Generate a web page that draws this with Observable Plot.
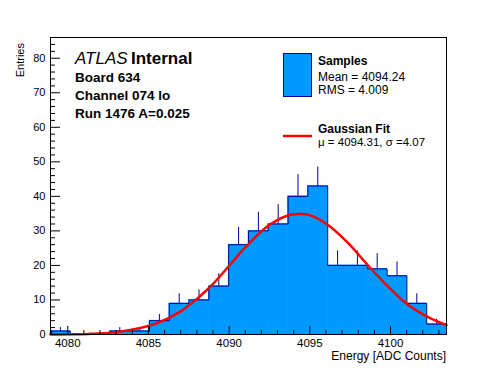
<!DOCTYPE html>
<html><head><meta charset="utf-8">
<script src="https://cdn.jsdelivr.net/npm/d3@7"></script>
<script src="https://cdn.jsdelivr.net/npm/@observablehq/plot@0.6"></script>
<style>body{margin:0;background:#fff;} #chart{width:496px;height:372px;}</style>
</head><body><div id="chart"></div>
<script>
// ---- data ----
const xRange = [4078.93, 4103.47];
const yRange = [0, 86];
const counts = [1, 0, 0, 1, 1, 4, 9, 10, 14, 26, 30, 32, 40, 43, 20, 20, 19, 17, 9, 3];
const errTop = [2, 0, 0, 2, 2, 5.8, 11.8, 12.9, 17.6, 31, 35.4, 37.6, 46.3, 48.5, 24.2, 24.2, 23.4, 21, 11.8, 4.4];
const fitX = [4078.93, 4080.5, 4081.4, 4082.5, 4083.1, 4084.5, 4085.5, 4087.0, 4088.0, 4089.05, 4090.0, 4091.1, 4092.4, 4093.6, 4094.3, 4094.9, 4096.1, 4097.35, 4098.55, 4099.8, 4101.0, 4102.3, 4103.47];
const fitY = [0.0, 0.05, 0.2, 0.45, 0.75, 1.9, 3.2, 6.7, 10.3, 14.9, 19.9, 25.7, 31.4, 34.4, 34.9, 34.7, 31.8, 26.6, 20.3, 14.1, 8.9, 5.1, 2.7];
const xMajor = [4080, 4085, 4090, 4095, 4100];
const xMinor = [4079, 4081, 4082, 4083, 4084, 4086, 4087, 4088, 4089, 4091, 4092, 4093, 4094, 4096, 4097, 4098, 4099, 4101, 4102, 4103];
const yMajor = [0, 10, 20, 30, 40, 50, 60, 70, 80];
const yMinor = [2, 4, 6, 8, 12, 14, 16, 18, 22, 24, 26, 28, 32, 34, 36, 38, 42, 44, 46, 48, 52, 54, 56, 58, 62, 64, 66, 68, 72, 74, 76, 78, 82, 84];
const headline = ["ATLAS", "Internal"];
const infoLines = ["Board 634", "Channel 074 lo", "Run 1476 A=0.025"];
const legendSamples = ["Samples", "Mean = 4094.24", "RMS = 4.009"];
const legendFit = ["Gaussian Fit", "\u03bc = 4094.31, \u03c3 =4.07"];
const xTitle = "Energy [ADC Counts]";
const yTitle = "Entries";

// ---- derived tables ----
const binW = (xRange[1] - xRange[0]) / counts.length;
const bins = counts.map((c, i) => ({x1: xRange[0] + i * binW, x2: xRange[0] + (i + 1) * binW, c, e: errTop[i]}));
const outline = [{x: xRange[0], y: 0}];
bins.forEach(b => { outline.push({x: b.x1, y: b.c}); outline.push({x: b.x2, y: b.c}); });
outline.push({x: xRange[1], y: 0});
const fit = fitX.map((x, i) => ({x, y: fitY[i]}));

const FONT = "'Liberation Sans', Arial, Helvetica, sans-serif";
const FILL = "#0099ff", EDGE = "#000099";

const plot = Plot.plot({
  width: 496, height: 372,
  marginLeft: 50, marginRight: 50, marginTop: 37, marginBottom: 38,
  x: {domain: xRange, label: null},
  y: {domain: yRange, label: null},
  style: {fontFamily: FONT, fontSize: "12px", color: "black", background: "white"},
  marks: [
    Plot.rectY(bins, {x1: "x1", x2: "x2", y: "c", fill: FILL, stroke: FILL, strokeWidth: 0.6}),
    Plot.ruleX(bins.filter(d => d.c > 0), {x: d => (d.x1 + d.x2) / 2, y1: "c", y2: "e", stroke: EDGE, strokeWidth: 1}),
    Plot.line(outline, {x: "x", y: "y", stroke: EDGE, strokeWidth: 1}),
    Plot.line(fit, {x: "x", y: "y", stroke: "#ff0000", strokeWidth: 2.5, curve: "catmull-rom"}),
    Plot.axisX({ticks: xMinor, tickSize: -4, text: null}),
    Plot.axisX({ticks: xMajor, tickSize: -8, text: null}),
    Plot.axisX({ticks: xMajor, tickSize: 0, tickPadding: 4.5, tickFormat: "d", fontSize: 11.5}),
    Plot.axisY({ticks: yMinor, tickSize: -5, text: null}),
    Plot.axisY({ticks: yMajor, tickSize: -10, text: null}),
    Plot.axisY({ticks: yMajor, tickSize: 0, tickPadding: 5, tickFormat: "d", fontSize: 11}),
    Plot.frame({stroke: "black"})
  ]
});
document.getElementById("chart").appendChild(plot);

// ---- annotations and legend ----
const svg = d3.select(plot);
const g = svg.append("g").attr("font-family", FONT).attr("fill", "black");
function txt(x, y, s, size, weight, style, anchor) {
  return g.append("text").attr("x", x).attr("y", y).attr("font-size", size)
    .attr("font-weight", weight || "normal").attr("font-style", style || "normal")
    .attr("text-anchor", anchor || "start").text(s);
}
txt(75, 63.5, headline[0], 17, "normal", "italic");
txt(131, 63.5, headline[1], 17, "bold");
txt(75, 81.5, infoLines[0], 13.5, "bold");
txt(75, 99.5, infoLines[1], 13.5, "bold");
txt(75, 118, infoLines[2], 13.5, "bold");

g.append("rect").attr("x", 283.5).attr("y", 53.5).attr("width", 28).attr("height", 43)
  .attr("fill", FILL).attr("stroke", EDGE).attr("stroke-width", 1);
txt(318, 65, legendSamples[0], 12, "bold");
txt(318, 80.5, legendSamples[1], 12);
txt(318, 93.5, legendSamples[2], 12);
g.append("line").attr("x1", 283).attr("x2", 312).attr("y1", 136).attr("y2", 136)
  .attr("stroke", "#ff0000").attr("stroke-width", 2.5);
txt(318, 133, legendFit[0], 12, "bold");
txt(318, 145.5, legendFit[1], 11.5);

txt(446, 359.5, xTitle, 12, "normal", "normal", "end");
g.append("text").attr("transform", "translate(24,43) rotate(-90)").attr("text-anchor", "end")
  .attr("font-size", 11).text(yTitle);
</script></body></html>
